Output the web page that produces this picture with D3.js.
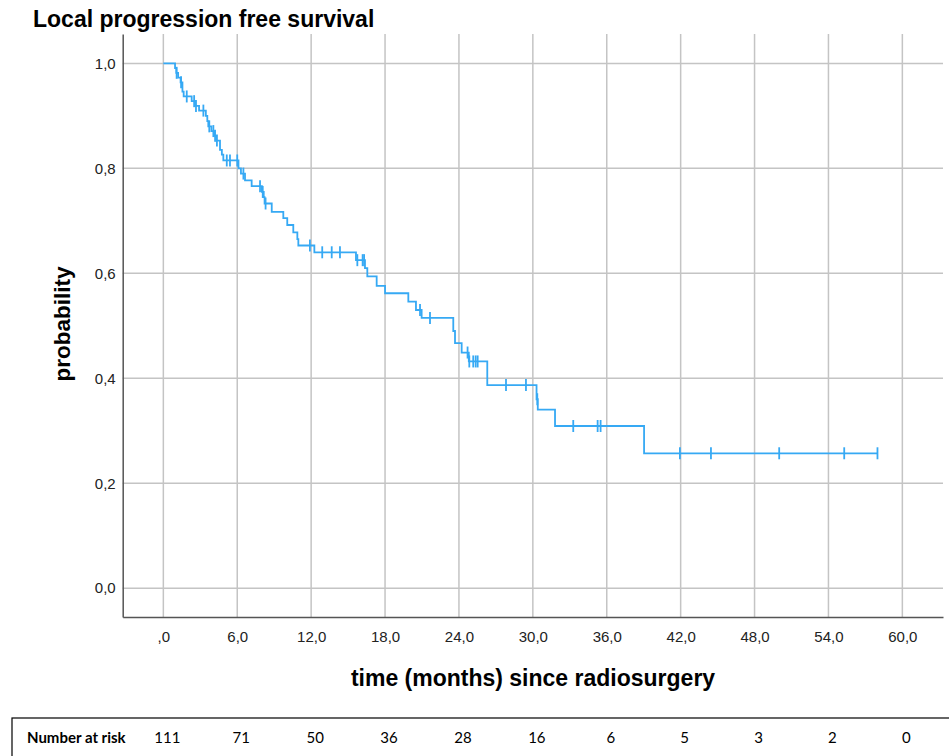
<!DOCTYPE html>
<html>
<head>
<meta charset="utf-8">
<script src="https://cdn.jsdelivr.net/npm/d3@7"></script>
<style>
  body { margin: 0; background: #fff; }
  svg { display: block; font-family: "Liberation Sans", Arial, sans-serif; }
</style>
</head>
<body>
<div id="root"></div>
<script>
// Kaplan-Meier steps: time of each drop and survival after it
var eventTimes = [0.95, 1.05, 1.2, 1.4, 1.55, 1.65, 2.3, 2.6, 2.9, 3.45, 3.57, 3.65, 3.9, 4.15, 4.3,
    4.6, 4.75, 4.87, 6.1, 6.3, 6.63, 7.17, 8.0, 8.15, 8.22, 8.8, 9.74, 10.06, 10.55, 10.88, 10.96,
    12.26, 15.64, 16.37, 16.56, 17.32, 18.0, 19.89, 20.51, 20.97, 23.54, 23.68, 24.22, 24.8,
    26.3, 30.3, 30.4, 31.8, 39.03];
var survival = [0.991, 0.982, 0.973, 0.964, 0.946, 0.937, 0.928, 0.919, 0.910, 0.900, 0.890, 0.880,
    0.871, 0.862, 0.853, 0.835, 0.826, 0.815, 0.800, 0.790, 0.777, 0.766, 0.755, 0.745, 0.733,
    0.717, 0.705, 0.692, 0.678, 0.665, 0.653, 0.640, 0.625, 0.610, 0.594, 0.576, 0.562, 0.546,
    0.530, 0.515, 0.490, 0.467, 0.449, 0.432, 0.387, 0.360, 0.340, 0.309, 0.257];
var censorTimes = [1.08, 1.44, 1.9, 2.5, 2.65, 3.25, 3.73, 4.06, 4.2, 4.35, 5.15, 5.41, 6.0, 6.5,
    7.85, 8.07, 8.3, 11.9, 12.9, 13.67, 14.34, 15.75, 16.18, 16.3, 20.84, 21.65, 24.7, 24.84,
    25.16, 25.36, 25.52, 27.82, 29.44, 30.36, 33.28, 35.26, 35.5, 41.94, 44.46, 50.0, 55.28, 57.98];
var lastTime = 57.98;

var xTicks = [0, 6, 12, 18, 24, 30, 36, 42, 48, 54, 60];
var xTickLabels = [",0", "6,0", "12,0", "18,0", "24,0", "30,0", "36,0", "42,0", "48,0", "54,0", "60,0"];
var yTicks = [0, 0.2, 0.4, 0.6, 0.8, 1.0];
var yTickLabels = ["0,0", "0,2", "0,4", "0,6", "0,8", "1,0"];
var atRisk = [111, 71, 50, 36, 28, 16, 6, 5, 3, 2, 0];

var width = 949, height = 756;
var svg = d3.select("#root").append("svg")
    .attr("width", width)
    .attr("height", height);

var x = d3.scaleLinear().domain([-3.3, 63.3]).range([122.7, 943]);
var y = d3.scaleLinear().domain([-0.055, 1.056]).range([617, 34]);

function survAt(t) {
    var s = 1;
    for (var i = 0; i < eventTimes.length; i++) {
        if (eventTimes[i] <= t) s = survival[i];
    }
    return s;
}

// title
svg.append("text")
    .attr("x", 33).attr("y", 27)
    .attr("font-size", 23).attr("font-weight", "bold")
    .attr("fill", "#000")
    .text("Local progression free survival");

// grid
var grid = svg.append("g").attr("stroke", "#c4c4c4").attr("stroke-width", 1.5);
grid.selectAll("line.h").data(yTicks).enter().append("line")
    .attr("x1", x.range()[0]).attr("x2", x.range()[1])
    .attr("y1", function(d) { return y(d); })
    .attr("y2", function(d) { return y(d); });
grid.selectAll("line.v").data(xTicks).enter().append("line")
    .attr("y1", y.range()[0]).attr("y2", y.range()[1])
    .attr("x1", function(d) { return x(d); })
    .attr("x2", function(d) { return x(d); });

// axes (no tick marks)
var xAxis = d3.axisBottom(x).tickValues(xTicks).tickSize(0).tickPadding(14)
    .tickFormat(function(d, i) { return xTickLabels[i]; });
var gx = svg.append("g").attr("transform", "translate(0," + y.range()[0] + ")").call(xAxis);
var yAxis = d3.axisLeft(y).tickValues(yTicks).tickSize(0).tickPadding(7)
    .tickFormat(function(d, i) { return yTickLabels[i]; });
var gy = svg.append("g").attr("transform", "translate(" + x.range()[0] + ",0)").call(yAxis);
[gx, gy].forEach(function(g) {
    g.select(".domain").attr("stroke", "#555").attr("stroke-width", 1.5);
    g.selectAll("text").attr("font-size", 15).attr("fill", "#222")
        .attr("font-family", "Liberation Sans, Arial, sans-serif");
});

// curve
var pts = [[0, 1]];
var s = 1;
eventTimes.forEach(function(t, i) {
    pts.push([t, s]);
    s = survival[i];
    pts.push([t, s]);
});
pts.push([lastTime, s]);

var line = d3.line()
    .x(function(d) { return x(d[0]); })
    .y(function(d) { return y(d[1]); });

var blue = "#36a9f4";
svg.append("path")
    .datum(pts)
    .attr("d", line)
    .attr("fill", "none")
    .attr("stroke", blue)
    .attr("stroke-width", 1.8);

svg.append("g").selectAll("line").data(censorTimes).enter().append("line")
    .attr("x1", function(d) { return x(d); })
    .attr("x2", function(d) { return x(d); })
    .attr("y1", function(d) { return y(survAt(d)) - 6; })
    .attr("y2", function(d) { return y(survAt(d)) + 6; })
    .attr("stroke", blue)
    .attr("stroke-width", 1.8);

// axis titles
svg.append("text")
    .attr("x", 533).attr("y", 686)
    .attr("text-anchor", "middle")
    .attr("font-size", 23).attr("font-weight", "bold")
    .text("time (months) since radiosurgery");
svg.append("text")
    .attr("transform", "translate(70,324) rotate(-90)")
    .attr("text-anchor", "middle")
    .attr("font-size", 22.5).attr("font-weight", "bold")
    .text("probability");

// number at risk table
svg.append("rect")
    .attr("x", 12).attr("y", 718)
    .attr("width", 960).attr("height", 60)
    .attr("fill", "none").attr("stroke", "#000").attr("stroke-width", 1.2);
svg.append("text")
    .attr("x", 27).attr("y", 743)
    .attr("font-family", "Lato, 'Open Sans', sans-serif")
    .attr("font-size", 15).attr("font-weight", "bold")
    .text("Number at risk");
svg.append("g").selectAll("text").data(atRisk).enter().append("text")
    .attr("x", function(d, i) { return x(xTicks[i]) + 4; })
    .attr("y", 743)
    .attr("text-anchor", "middle")
    .attr("font-family", "Lato, 'Open Sans', sans-serif")
    .attr("font-size", 15)
    .text(function(d) { return d; });
</script>
</body>
</html>
